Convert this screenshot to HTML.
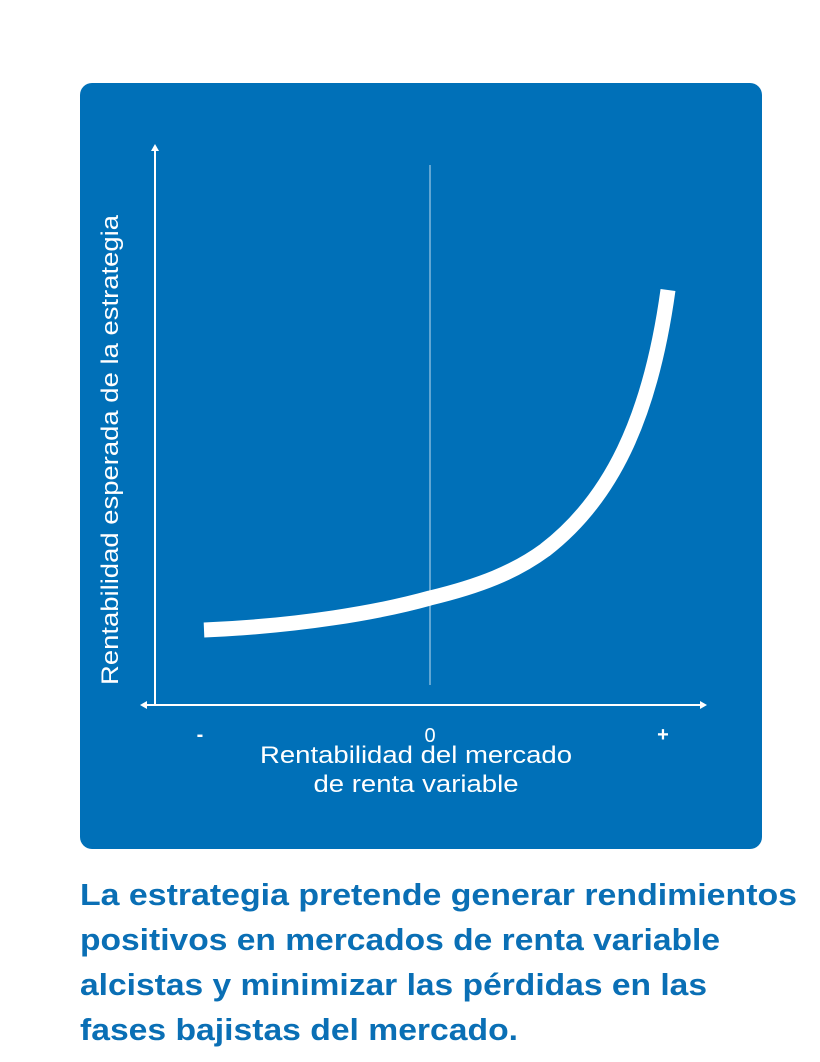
<!DOCTYPE html>
<html><head><meta charset="utf-8"><style>
html,body{margin:0;padding:0;background:#fff;}
svg{display:block;}
</style></head><body>
<svg width="820" height="1062" viewBox="0 0 820 1062" xmlns="http://www.w3.org/2000/svg" font-family="Liberation Sans, sans-serif">
<rect x="80" y="83" width="682" height="766" rx="12" fill="#0070b8"/>
<line x1="155" y1="150" x2="155" y2="705" stroke="#fff" stroke-width="2"/>
<polygon points="155,144 151,151 159,151" fill="#fff"/>
<line x1="144" y1="705" x2="703" y2="705" stroke="#fff" stroke-width="2"/>
<polygon points="140,705 147,701 147,709" fill="#fff"/>
<polygon points="707,705 700,701 700,709" fill="#fff"/>
<line x1="430" y1="165" x2="430" y2="685" stroke="#ffffff" stroke-opacity="0.5" stroke-width="1.5"/>
<path d="M204,630 C300,626 380,612 430,598 C480,586 515,572 545,550 C610,500 650,420 668,290" fill="none" stroke="#fff" stroke-width="15"/>
<text x="200" y="741" fill="#fff" font-size="20" font-weight="bold" text-anchor="middle">-</text>
<text x="430" y="742" fill="#fff" font-size="20" text-anchor="middle">0</text>
<text x="663" y="741" fill="#fff" font-size="20" font-weight="bold" text-anchor="middle">+</text>
<text x="416" y="763" fill="#fff" font-size="24" text-anchor="middle" textLength="312" lengthAdjust="spacingAndGlyphs">Rentabilidad del mercado</text>
<text x="416" y="792" fill="#fff" font-size="24" text-anchor="middle" textLength="205" lengthAdjust="spacingAndGlyphs">de renta variable</text>
<text transform="translate(118,685) rotate(-90)" fill="#fff" font-size="24" textLength="470" lengthAdjust="spacingAndGlyphs">Rentabilidad esperada de la estrategia</text>
<g fill="#0a6fb5" font-size="31" font-weight="bold">
<text x="80" y="905" textLength="717" lengthAdjust="spacingAndGlyphs">La estrategia pretende generar rendimientos</text>
<text x="80" y="950" textLength="640" lengthAdjust="spacingAndGlyphs">positivos en mercados de renta variable</text>
<text x="80" y="995" textLength="627" lengthAdjust="spacingAndGlyphs">alcistas y minimizar las pérdidas en las</text>
<text x="80" y="1040" textLength="438" lengthAdjust="spacingAndGlyphs">fases bajistas del mercado.</text>
</g>
</svg>
</body></html>
